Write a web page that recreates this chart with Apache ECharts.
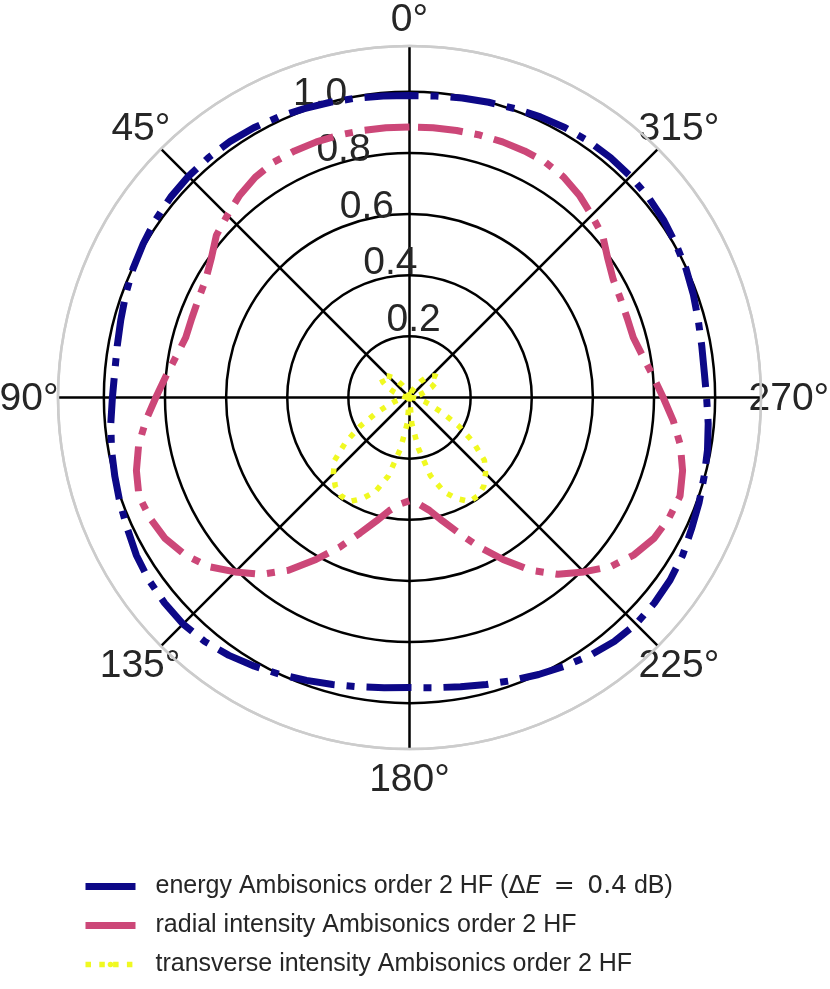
<!DOCTYPE html>
<html><head><meta charset="utf-8">
<script src="https://cdn.jsdelivr.net/npm/echarts@6/dist/echarts.min.js"></script>
<style>html,body{margin:0;padding:0;background:#fff}#c{width:830px;height:989px}</style>
</head><body><div id="c"></div>
<script>
// source direction in degrees (0 = front, counter-clockwise)
const angles = [0,5,10,15,20,25,30,35,40,45,50,55,60,65,70,75,80,85,90,95,100,105,110,115,120,125,130,135,140,145,150,155,160,165,170,175,180,
  185,190,195,200,205,210,215,220,225,230,235,240,245,250,255,260,265,270,275,280,285,290,295,300,305,310,315,320,325,330,335,340,345,350,355,360];

const energy = [0.988,0.990,0.995,1.000,1.006,1.013,1.019,1.023,1.024,1.023,1.020,1.014,1.006,0.998,0.988,0.978,0.971,0.968,0.972,0.981,0.990,0.998,1.008,1.018,1.032,1.041,1.046,1.048,1.042,1.030,1.015,1.000,0.985,0.972,0.961,0.953,0.949,
  0.953,0.961,0.972,0.985,1.000,1.015,1.030,1.042,1.048,1.046,1.041,1.032,1.018,1.008,0.998,0.990,0.981,0.972,0.968,0.971,0.978,0.988,0.998,1.006,1.014,1.020,1.023,1.024,1.023,1.019,1.013,1.006,1.000,0.995,0.990,0.988];

const radial = [0.885,0.886,0.887,0.889,0.890,0.890,0.889,0.880,0.864,0.843,0.825,0.792,0.770,0.762,0.758,0.758,0.775,0.800,0.830,0.866,0.900,0.925,0.942,0.936,0.923,0.897,0.860,0.807,0.755,0.690,0.612,0.540,0.472,0.418,0.375,0.350,0.338,
  0.350,0.375,0.418,0.472,0.540,0.612,0.690,0.755,0.807,0.860,0.897,0.923,0.936,0.942,0.925,0.900,0.866,0.830,0.800,0.775,0.758,0.758,0.762,0.770,0.792,0.825,0.843,0.864,0.880,0.889,0.890,0.890,0.889,0.887,0.886,0.885];

const transverse = [0.000,0.005,0.010,0.015,0.020,0.030,0.045,0.065,0.085,0.100,0.110,0.115,0.100,0.080,0.055,0.035,0.020,0.010,0.005,0.015,0.030,0.050,0.075,0.120,0.185,0.255,0.320,0.352,0.378,0.392,0.393,0.365,0.328,0.265,0.170,0.085,0.000,
  0.085,0.170,0.265,0.328,0.365,0.393,0.392,0.378,0.352,0.320,0.255,0.185,0.120,0.075,0.050,0.030,0.015,0.005,0.010,0.020,0.035,0.055,0.080,0.100,0.115,0.110,0.100,0.085,0.065,0.045,0.030,0.020,0.015,0.010,0.005,0.000];

const seriesNames = [
  'energy Ambisonics order 2 HF (\u0394E = 0.4 dB)',
  'radial intensity Ambisonics order 2 HF',
  'transverse intensity Ambisonics order 2 HF'
];
const angleTicks = [0,45,90,135,180,225,270,315];
const radiusTicks = [0.2,0.4,0.6,0.8,1.0];

const FONT = '"Liberation Sans", Arial, sans-serif';
const MATH = '"DejaVu Sans", sans-serif';
const TXT = '#262626';
const dashDot = [45, 12, 8, 12];
const dotted = [5.5, 8.3];

function pairs(vals){ return vals.map((v,i)=>[v, angles[i]]); }

// per-label padding to centre the angle labels on their direction
const angPad = {
  0:[0,0,67,0], 45:[0,10,39,0], 90:[4,27,0,0], 135:[39,0,0,0],
  180:[77,0,0,0], 225:[39,0,0,0], 270:[4,0,0,15], 315:[0,0,39,0]
};
const angRich = {};
angleTicks.forEach(a=>{ angRich['a'+a] = {fontSize:39, lineHeight:40, fontFamily:FONT, color:TXT, padding:angPad[a]}; });

const chart = echarts.init(document.getElementById('c'), null, {renderer:'canvas'});
chart.setOption({
  animation:false,
  backgroundColor:'#fff',
  polar:[
    {center:[409.5,397.5], radius:351.5},
    {center:[409.5,397.5], radius:[8.8,360.3]}
  ],
  angleAxis:[
    {polarIndex:0, type:'value', min:0, max:360, interval:45, startAngle:90, clockwise:false,
     axisLine:{show:true, lineStyle:{color:'#cccccc', width:2.5}},
     axisTick:{show:false},
     splitLine:{show:true, lineStyle:{color:'#000', width:2.5}},
     axisLabel:{show:true, margin:-27.5,
       formatter:v=> angleTicks.indexOf(v)>=0 ? '{a'+v+'|'+v+'\u00b0}' : '',
       rich:angRich}
    },
    {polarIndex:1, type:'value', min:0, max:360, startAngle:112.5, clockwise:false,
     axisLine:{show:false}, axisTick:{show:false}, splitLine:{show:false}, axisLabel:{show:false}}
  ],
  radiusAxis:[
    {polarIndex:0, type:'value', min:0, max:1.15, interval:0.2,
     axisLine:{show:false}, axisTick:{show:false}, axisLabel:{show:false},
     splitLine:{show:true, lineStyle:{color:['#000','#000','#000','#000','#000','#000','#cccccc'], width:2.5}}
    },
    {polarIndex:1, type:'value', min:0, max:1.15, interval:0.2,
     axisLine:{show:false}, axisTick:{show:false}, splitLine:{show:false},
     axisLabel:{show:true, margin:-33.5, align:'center', verticalAlign:'middle',
       fontSize:39, fontFamily:FONT, color:TXT,
       formatter:v=>{ const r=Math.round(v*10)/10; return radiusTicks.indexOf(r)>=0 && Math.abs(v-r)<1e-6 ? r.toFixed(1) : ''; }}
    }
  ],
  legend:{
    orient:'vertical', left:82, top:874, padding:0, itemGap:14,
    itemWidth:50, itemHeight:7,
    textStyle:{fontSize:25, lineHeight:25, fontFamily:FONT, color:TXT, padding:[0,0,0,15],
      rich:{
        m:{fontSize:25, fontFamily:MATH, color:TXT},
        mi:{fontSize:25, fontFamily:MATH, fontStyle:'italic', color:TXT}
      }},
    formatter:n=> n===seriesNames[0] ? 'energy Ambisonics order 2 HF ({m|\u0394}{mi|E}{m|\u2002=\u20020.4} dB)' : n,
    data:[
      {name:seriesNames[0], lineStyle:{type:'solid', width:7, cap:'butt'}},
      {name:seriesNames[1], lineStyle:{type:'solid', width:7, cap:'butt'}},
      {name:seriesNames[2], lineStyle:{type:dotted, width:5.5, cap:'butt'}}
    ]
  },
  series:[
    {name:seriesNames[0], type:'line', coordinateSystem:'polar', polarIndex:0, symbol:'none', clip:false,
     data:pairs(energy), lineStyle:{color:'#0d0887', width:7, type:dashDot, cap:'butt'}, itemStyle:{color:'#0d0887'}, z:3},
    {name:seriesNames[1], type:'line', coordinateSystem:'polar', polarIndex:0, symbol:'none', clip:false,
     data:pairs(radial), lineStyle:{color:'#cc4778', width:7, type:dashDot, cap:'butt'}, itemStyle:{color:'#cc4778'}, z:4},
    {name:seriesNames[2], type:'line', coordinateSystem:'polar', polarIndex:0, symbol:'none', clip:false,
     data:pairs(transverse), lineStyle:{color:'#f0f921', width:5.5, type:dotted, cap:'butt'}, itemStyle:{color:'#f0f921'}, z:5}
  ]
});
</script></body></html>
